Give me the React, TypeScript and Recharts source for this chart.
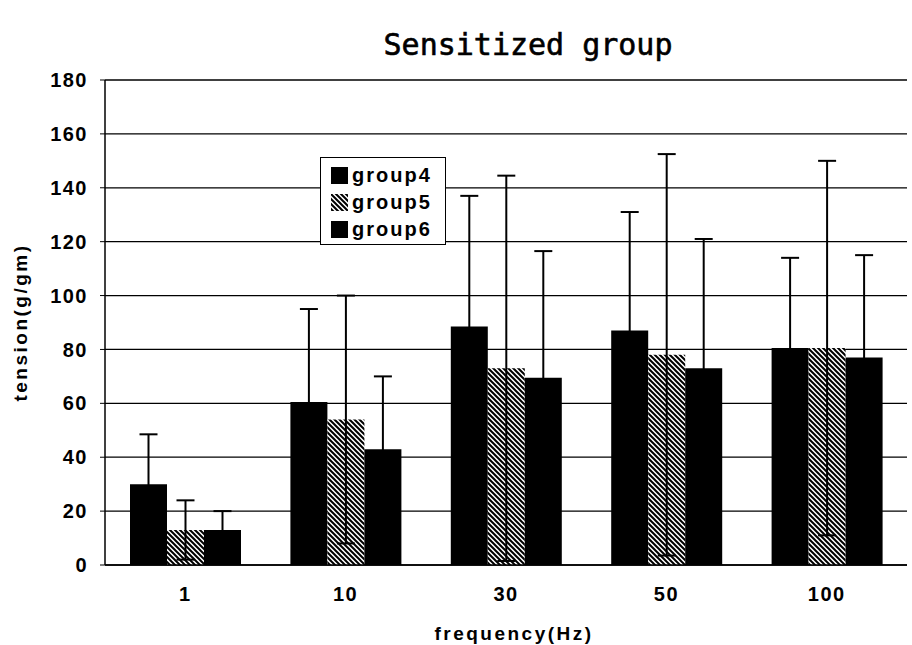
import { BarChart, Bar, XAxis, YAxis, CartesianGrid, ErrorBar, Legend } from 'recharts'

const FREQS = ['1', '10', '30', '50', '100']
const GROUP4 = [30, 60.5, 88.5, 87, 80.5]
const GROUP4_SD = [18.5, 34.5, 48.5, 44, 33.5]
const GROUP5 = [13, 54, 73, 78, 80.5]
const GROUP5_SD = [11, 46, 71.5, 74.5, 69.5]
const GROUP6 = [13, 43, 69.5, 73, 77]
const GROUP6_SD = [7, 27, 47, 48, 38]
const Y_TICKS = [0, 20, 40, 60, 80, 100, 120, 140, 160, 180]
const SERIES = ['group4', 'group5', 'group6']

const FONT = '"Liberation Sans", Arial, sans-serif'
const tickStyle = { fill: '#000', fontSize: 20, fontWeight: 700, fontFamily: FONT, letterSpacing: 1.5 }
const labelStyle = { ...tickStyle, fontSize: 19, letterSpacing: 2.5 }

const data = FREQS.map((f, i) => ({
  freq: f,
  g4: GROUP4[i],
  g4sd: GROUP4_SD[i],
  g5: GROUP5[i],
  g5sd: GROUP5_SD[i],
  g6: GROUP6[i],
  g6sd: GROUP6_SD[i],
}))

const fillFor = (name: string) => (name === 'group5' ? 'url(#hatch)' : '#000')

function LegendBox() {
  return (
    <div
      style={{
        width: 126,
        height: 88,
        border: '1.5px solid #000',
        background: '#fff',
        boxSizing: 'border-box',
        padding: '4px 0 0 10px',
      }}
    >
      {SERIES.map((s) => (
        <div key={s} style={{ display: 'flex', alignItems: 'center', height: 27 }}>
          <svg width={17} height={17} style={{ marginRight: 4 }}>
            <rect width={17} height={17} fill={fillFor(s)} />
          </svg>
          <span style={{ fontFamily: FONT, fontWeight: 700, fontSize: 20, letterSpacing: 2, color: '#000' }}>
            {s}
          </span>
        </div>
      ))}
    </div>
  )
}

export default function App() {
  return (
    <div style={{ position: 'absolute', left: 0, top: 0, width: 912, height: 645, background: '#fff' }}>
      <svg width={0} height={0} style={{ position: 'absolute' }}>
        <defs>
          <pattern id="hatch" patternUnits="userSpaceOnUse" width={5} height={5}>
            <rect width={5} height={5} fill="#fff" />
            <path d="M-1,-1 L6,6 M-1,4 L1,6 M4,-1 L6,1" stroke="#000" strokeWidth={2} />
          </pattern>
        </defs>
      </svg>
      <div
        style={{
          position: 'absolute',
          left: 528,
          top: 28,
          transform: 'translateX(-50%)',
          fontFamily: '"DejaVu Sans Mono", monospace',
          fontSize: 30,
          lineHeight: '34px',
          whiteSpace: 'nowrap',
          color: '#000',
          WebkitTextStroke: '0.6px #000',
        }}
      >
        Sensitized group
      </div>
      <BarChart
        width={912}
        height={645}
        data={data}
        margin={{ top: 80, right: 5, bottom: 0, left: 0 }}
        barGap={0}
      >
        <CartesianGrid vertical={false} stroke="#000" strokeWidth={1.3} />
        <XAxis
          dataKey="freq"
          height={80}
          axisLine={{ stroke: '#000', strokeWidth: 1.5 }}
          tickLine={false}
          tickSize={0}
          tickMargin={22}
          tick={tickStyle}
          label={{
            value: 'frequency(Hz)',
            position: 'insideBottom',
            offset: 5,
            dx: 8,
            style: labelStyle,
          }}
        />
        <YAxis
          width={105}
          domain={[0, 180]}
          ticks={Y_TICKS}
          interval={0}
          axisLine={{ stroke: '#000', strokeWidth: 1.5 }}
          tickLine={{ stroke: '#000' }}
          tickSize={5}
          tickMargin={12}
          tick={tickStyle}
          label={{
            value: 'tension(g/gm)',
            angle: -90,
            position: 'center',
            dx: -32,
            style: { ...labelStyle, textAnchor: 'middle' },
          }}
        />
        <Legend
          layout="vertical"
          align="center"
          verticalAlign="middle"
          content={() => <LegendBox />}
          wrapperStyle={{ left: 320, top: 157, width: 126, height: 88 }}
        />
        <Bar dataKey="g4" name="group4" fill="#000" barSize={37} isAnimationActive={false}>
          <ErrorBar dataKey="g4sd" direction="y" width={9} strokeWidth={2} stroke="#000" />
        </Bar>
        <Bar dataKey="g5" name="group5" fill="url(#hatch)" barSize={37} isAnimationActive={false}>
          <ErrorBar dataKey="g5sd" direction="y" width={9} strokeWidth={2} stroke="#000" />
        </Bar>
        <Bar dataKey="g6" name="group6" fill="#000" barSize={37} isAnimationActive={false}>
          <ErrorBar dataKey="g6sd" direction="y" width={9} strokeWidth={2} stroke="#000" />
        </Bar>
      </BarChart>
    </div>
  )
}
